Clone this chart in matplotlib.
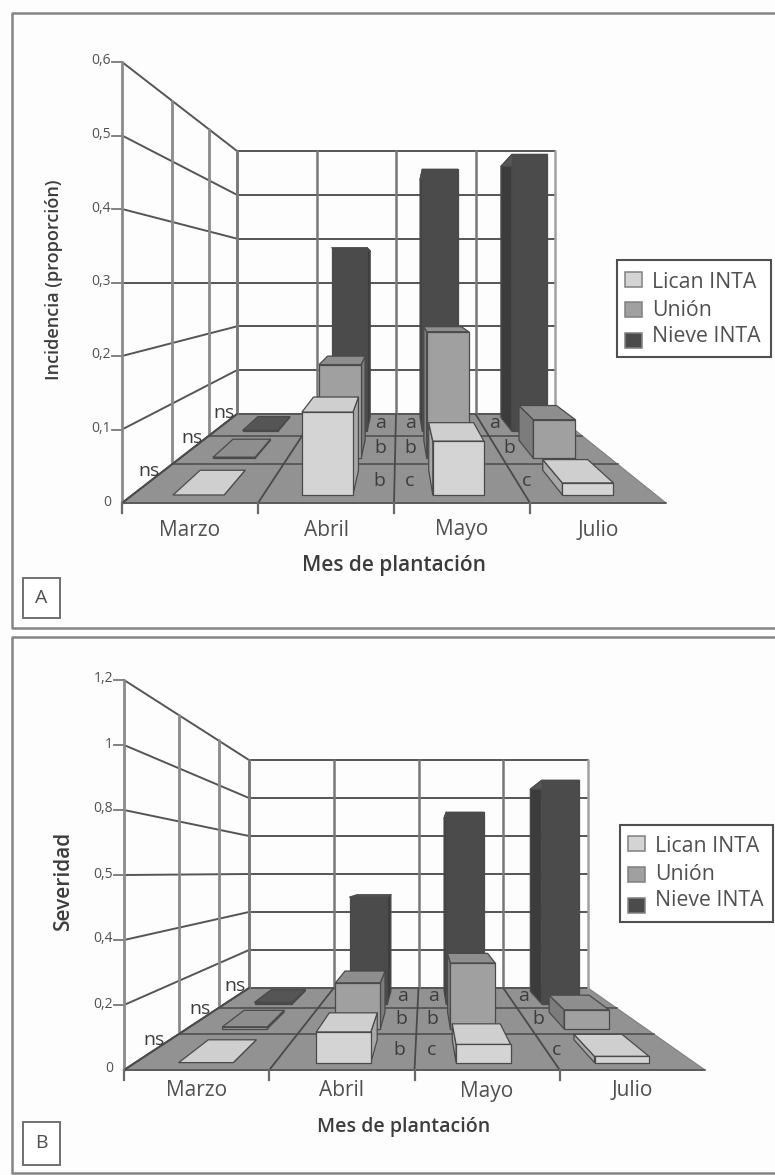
import numpy as np
import matplotlib
matplotlib.use('Agg')
import matplotlib.pyplot as plt
from matplotlib.patches import Rectangle

months = ['Marzo', 'Abril', 'Mayo', 'Julio']
series = ['Lican INTA', 'Unión', 'Nieve INTA']

# values per month, front row to back row
incidencia = {
    'Lican INTA': [0.0, 0.117, 0.076, 0.017],
    'Unión': [0.002, 0.160, 0.216, 0.066],
    'Nieve INTA': [0.002, 0.370, 0.528, 0.558],
}
severidad = {
    'Lican INTA': [0.0, 0.098, 0.058, 0.020],
    'Unión': [0.008, 0.179, 0.256, 0.074],
    'Nieve INTA': [0.008, 0.494, 0.886, 1.034],
}
ticks_a = [0, 0.1, 0.2, 0.3, 0.4, 0.5, 0.6]
ticklabels_a = ['0', '0,1', '0,2', '0,3', '0,4', '0,5', '0,6']
ticks_b = [0, 0.2, 0.4, 0.6, 0.8, 1.0, 1.2]
ticklabels_b = ['0', '0,2', '0,4', '0,5', '0,8', '1', '1,2']
letters = {
    'Abril': ['b', 'b', 'a'],
    'Mayo': ['c', 'b', 'a'],
    'Julio': ['c', 'b', 'a'],
}

FACES = {
    'Lican INTA': ('#d4d4d4', '#cfcfcf', '#a8a8a8'),
    'Unión': ('#a0a0a0', '#8e8e8e', '#7c7c7c'),
    'Nieve INTA': ('#4b4b4b', '#555555', '#3c3c3c'),
}
TXT = '#505050'
FLOOR = '#929292'
K = 0.55
BAR_CENTER = [0.506, 1.49, 2.49, 3.48]
LETTER_POS = {'Abril': [1.877, 1.855, 1.826], 'Mayo': [2.123, 2.145, 2.174], 'Julio': [3.08, 3.12, 3.15]}
plt.rcParams['font.family'] = ['Open Sans', 'DejaVu Sans']


class Box3D:
    """perspective box, month axis 0-4, row axis 0-3, value axis 0-zmax"""

    def __init__(self, zmax, left, right, floor, height):
        self.zmax = zmax
        self.left = left
        self.right = right
        self.floor = floor
        self.height = height

    def xy(self, m, row, z=0.0):
        d = np.asarray(row) / 3.0
        t = (1 - 1 / (1 + K * d)) / (1 - 1 / (1 + K))
        xl = self.left[0] + (self.left[1] - self.left[0]) * t
        xr = self.right[0] + (self.right[1] - self.right[0]) * t
        y = self.floor[0] + (self.floor[1] - self.floor[0]) * t
        h = self.height[0] + (self.height[1] - self.height[0]) * t
        return xl + (xr - xl) * m / 4.0, y - h * z / self.zmax


def poly(ax, box, pts, fc, lw=0.9, ec='#4a4a4a', zorder=3):
    xy = [box.xy(*p) for p in pts]
    ax.fill([p[0] for p in xy], [p[1] for p in xy], fc=fc, ec=ec, lw=lw, joinstyle='round', zorder=zorder)


def line(ax, box, a, b, color='#555555', lw=1.3):
    pa, pb = box.xy(*a), box.xy(*b)
    ax.plot([pa[0], pb[0]], [pa[1], pb[1]], color=color, lw=lw, solid_capstyle='round', zorder=2)


def draw_bar(ax, box, c, row, z, color):
    front, top, side = color
    x0, x1 = c - 0.195, c + 0.195
    r0, r1 = row + 0.18, row + 0.82
    if x1 < 2:
        poly(ax, box, [(x1, r0, 0), (x1, r1, 0), (x1, r1, z), (x1, r0, z)], side)
    elif x0 > 2:
        poly(ax, box, [(x0, r0, 0), (x0, r1, 0), (x0, r1, z), (x0, r0, z)], side)
    poly(ax, box, [(x0, r0, z), (x1, r0, z), (x1, r1, z), (x0, r1, z)], top)
    if z > 0:
        poly(ax, box, [(x0, r0, 0), (x1, r0, 0), (x1, r0, z), (x0, r0, z)], front)


def draw_panel(ax, box, values, ticks, ticklabels, ylabel, ylabel_xy, ylabel_size, xlabel_xy, xlabel_size, month_y):
    zmax = box.zmax
    # floor
    poly(ax, box, [(0, 0), (4, 0), (4, 3), (0, 3)], FLOOR, lw=0.8, ec='#808080', zorder=1)
    # walls
    for z in ticks:
        line(ax, box, (0, 0, z), (0, 3, z), lw=1.4)
        line(ax, box, (0, 3, z), (4, 3, z), lw=1.4)
        x, y = box.xy(0, 0, z)
        if z > 0:
            ax.plot([x - 10, x], [y, y], color='#777777', lw=1.3, zorder=2)
    for i, z in enumerate(ticks):
        x, y = box.xy(0, 0, z)
        ax.text(x - 11, y - 1, ticklabels[i], ha='right', va='center', fontsize=10, color=TXT)
    for r in range(4):
        line(ax, box, (0, r, 0), (0, r, zmax), color='#8a8a8a', lw=2.0)
    for m in range(5):
        line(ax, box, (m, 3, 0), (m, 3, zmax), color='#777777' if m < 4 else '#a0a0a0', lw=1.8)
    # floor grid
    for r in range(3):
        line(ax, box, (0, r, 0), (4, r, 0), color='#5a5a5a', lw=1.4)
    for m in range(4):
        line(ax, box, (m, 0, 0), (m, 3, 0), color='#4a4a4a', lw=1.3)
        x, y = box.xy(m, 0)
        ax.plot([x, x], [y, y + 10], color='#6a6a6a', lw=1.6, zorder=2)
    # letters
    for r in range(3):
        x, y = box.xy(0, r + 0.5)
        ax.text(x, y - 11, 'ns', ha='center', va='center', fontsize=14, color='#3c3c3c', zorder=2.5)
    for name in months[1:]:
        for r, t in enumerate(letters[name]):
            x, y = box.xy(LETTER_POS[name][r], r + 0.5)
            ax.text(x, y - 1, t, ha='center', va='center', fontsize=14, color='#3c3c3c', zorder=4)
    # bars, back row first
    for r in [2, 1, 0]:
        name = series[r]
        for m in [0, 3, 1, 2]:
            draw_bar(ax, box, BAR_CENTER[m], r, values[name][m], FACES[name])
    for i, name in enumerate(months):
        x, y = box.xy(i + 0.5, 0)
        ax.text(x, month_y, name, ha='center', va='center', fontsize=15, color=TXT)
    ax.text(xlabel_xy[0], xlabel_xy[1], 'Mes de plantación', ha='center', va='center', fontsize=xlabel_size,
            fontweight='semibold', color='#3c3c3c')
    ax.text(ylabel_xy[0], ylabel_xy[1], ylabel, ha='center', va='center', rotation=90, fontsize=ylabel_size,
            fontweight='semibold', color='#3c3c3c')


def draw_legend(ax, x0, y0, x1, y1, swatch_y, text_y):
    ax.add_patch(Rectangle((x0, y0), x1 - x0, y1 - y0, fc='white', ec='#505050', lw=1.5, zorder=5))
    for name, sy, ty in zip(series, swatch_y, text_y):
        ax.add_patch(Rectangle((x0 + 8, sy), 17, 15, fc=FACES[name][0], ec='#808080', lw=1.1, zorder=6))
        ax.text(x0 + 35, ty, name, va='center', ha='left', fontsize=15.3, color=TXT, zorder=6)


fig = plt.figure(figsize=(7.75, 11.75), dpi=100, facecolor='#fdfdfd')
ax = fig.add_axes([0, 0, 1, 1])
ax.set_xlim(0, 775)
ax.set_ylim(1175, 0)
ax.axis('off')

# outer frames
ax.plot([775, 12, 12, 775], [13, 13, 628, 628], color='#858585', lw=1.8)
ax.plot([775, 12, 12, 775], [637, 637, 1173, 1173], color='#858585', lw=1.8)

box_a = Box3D(0.6, (122, 237), (666, 555), (503, 414), (441, 263))
box_b = Box3D(1.2, (124, 249), (705, 588), (1070, 988), (390, 228))

draw_panel(ax, box_a, incidencia, ticks_a, ticklabels_a, 'Incidencia (proporción)', (54, 280), 13, (394, 566), 15, 530)
draw_panel(ax, box_b, severidad, ticks_b, ticklabels_b, 'Severidad', (63, 880), 15, (404, 1127), 14, 1091)

draw_legend(ax, 617, 260, 771, 357, [272, 302, 333], [283, 310, 336])
draw_legend(ax, 620, 825, 773, 922, [836, 867, 898], [847, 875, 901])

for label, x0, y0, x1, y1 in [('A', 23, 578, 60, 618), ('B', 23, 1122, 60, 1165)]:
    ax.add_patch(Rectangle((x0, y0), x1 - x0, y1 - y0, fc='white', ec='#707070', lw=1.4))
    ax.text((x0 + x1) / 2, (y0 + y1) / 2, label, ha='center', va='center', fontsize=14, color=TXT)

fig.savefig('out.png', dpi=100, facecolor=fig.get_facecolor())
